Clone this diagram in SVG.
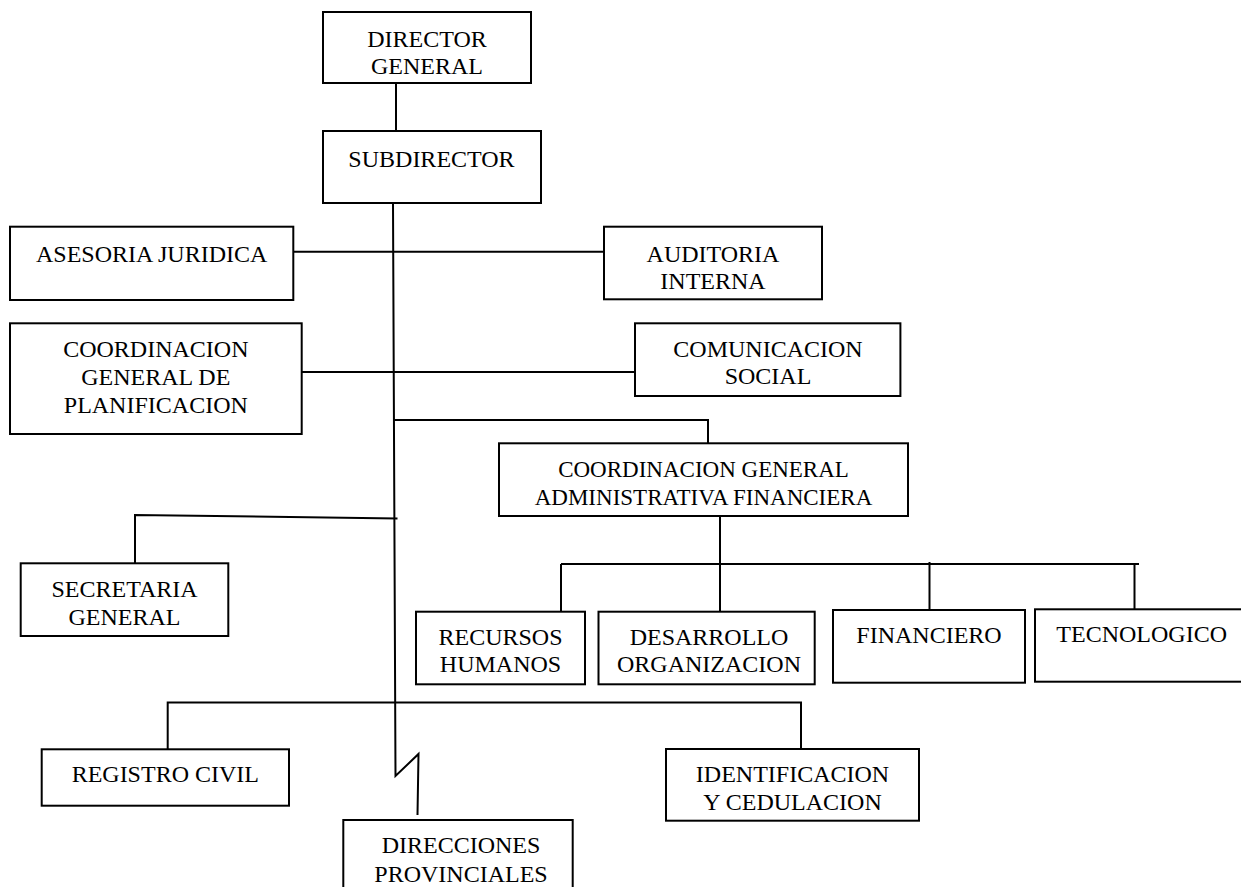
<svg xmlns="http://www.w3.org/2000/svg" width="1241" height="887" viewBox="0 0 1241 887">
<style>
rect.box{fill:#fff;stroke:#000;stroke-width:2}
#connectors{fill:none;stroke:#000;stroke-width:2}
text{font-family:"Liberation Serif","Times New Roman",serif;font-size:24px;fill:#000;text-anchor:middle}
.small{font-size:23px}
</style>
<rect width="1241" height="887" fill="#fff"/>
<g id="connectors">
<line x1="396" y1="83" x2="396" y2="131"/>
<polyline points="393,203 395.5,776 418.5,754 417.5,815"/>
<line x1="293" y1="251.7" x2="604" y2="251.7"/>
<line x1="302" y1="372" x2="635" y2="372"/>
<polyline points="394,420 708,420 708,443"/>
<polyline points="135,563 135,515 397.5,518.5"/>
<polyline points="167.7,749 167.7,702.5 801,702.5 801,749"/>
<line x1="720" y1="516" x2="720" y2="611.7"/>
<line x1="561" y1="564" x2="1139" y2="564"/>
<line x1="561" y1="564" x2="561" y2="611.7"/>
<line x1="929.5" y1="562" x2="929.5" y2="610"/>
<line x1="1134.5" y1="564" x2="1134.5" y2="609.3"/>
</g>
<g id="director-general"><rect class="box" x="323" y="12" width="208" height="71"/><text x="427" y="47">DIRECTOR</text><text x="427" y="74">GENERAL</text></g>
<g id="subdirector"><rect class="box" x="323" y="131" width="218" height="72"/><text x="431.5" y="166.7">SUBDIRECTOR</text></g>
<g id="asesoria-juridica"><rect class="box" x="10" y="226.7" width="283.3" height="73.3"/><text x="151.7" y="261.7">ASESORIA JURIDICA</text></g>
<g id="auditoria-interna"><rect class="box" x="604" y="226.7" width="218" height="72.6"/><text x="713" y="261.7">AUDITORIA</text><text x="713" y="289.3">INTERNA</text></g>
<g id="coordinacion-planificacion"><rect class="box" x="10" y="323.3" width="291.7" height="110.7"/><text x="155.8" y="356.7">COORDINACION</text><text x="155.8" y="385">GENERAL DE</text><text x="155.8" y="413.3">PLANIFICACION</text></g>
<g id="comunicacion-social"><rect class="box" x="635" y="323.3" width="265.4" height="72.7"/><text x="768" y="356.7">COMUNICACION</text><text x="768" y="384.3">SOCIAL</text></g>
<g id="coordinacion-administrativa"><rect class="box" x="499" y="443.3" width="409" height="72.7"/><text class="small" x="703.5" y="476.7">COORDINACION GENERAL</text><text class="small" x="703.5" y="505">ADMINISTRATIVA FINANCIERA</text></g>
<g id="secretaria-general"><rect class="box" x="20.7" y="563.3" width="207.6" height="72.7"/><text x="124.5" y="596.7">SECRETARIA</text><text x="124.5" y="625">GENERAL</text></g>
<g id="recursos-humanos"><rect class="box" x="416" y="611.7" width="169" height="72.6"/><text x="500.5" y="645">RECURSOS</text><text x="500.5" y="671.7">HUMANOS</text></g>
<g id="desarrollo-organizacion"><rect class="box" x="598.5" y="611.7" width="216.2" height="72.6"/><text x="709" y="645">DESARROLLO</text><text x="709" y="671.7">ORGANIZACION</text></g>
<g id="financiero"><rect class="box" x="833" y="610" width="192" height="72.7"/><text x="929" y="642.7">FINANCIERO</text></g>
<g id="tecnologico"><rect class="box" x="1035" y="609.3" width="210" height="72.4"/><text x="1141.7" y="641.7">TECNOLOGICO</text></g>
<g id="registro-civil"><rect class="box" x="41.7" y="749.3" width="247.3" height="56.4"/><text x="165.3" y="782.3">REGISTRO CIVIL</text></g>
<g id="identificacion-cedulacion"><rect class="box" x="666" y="749" width="253" height="71.7"/><text x="792.5" y="781.7">IDENTIFICACION</text><text x="792.5" y="810">Y CEDULACION</text></g>
<g id="direcciones-provinciales"><rect class="box" x="343.3" y="820" width="229.4" height="80"/><text x="461" y="853.3">DIRECCIONES</text><text x="461" y="881.7">PROVINCIALES</text></g>
</svg>
